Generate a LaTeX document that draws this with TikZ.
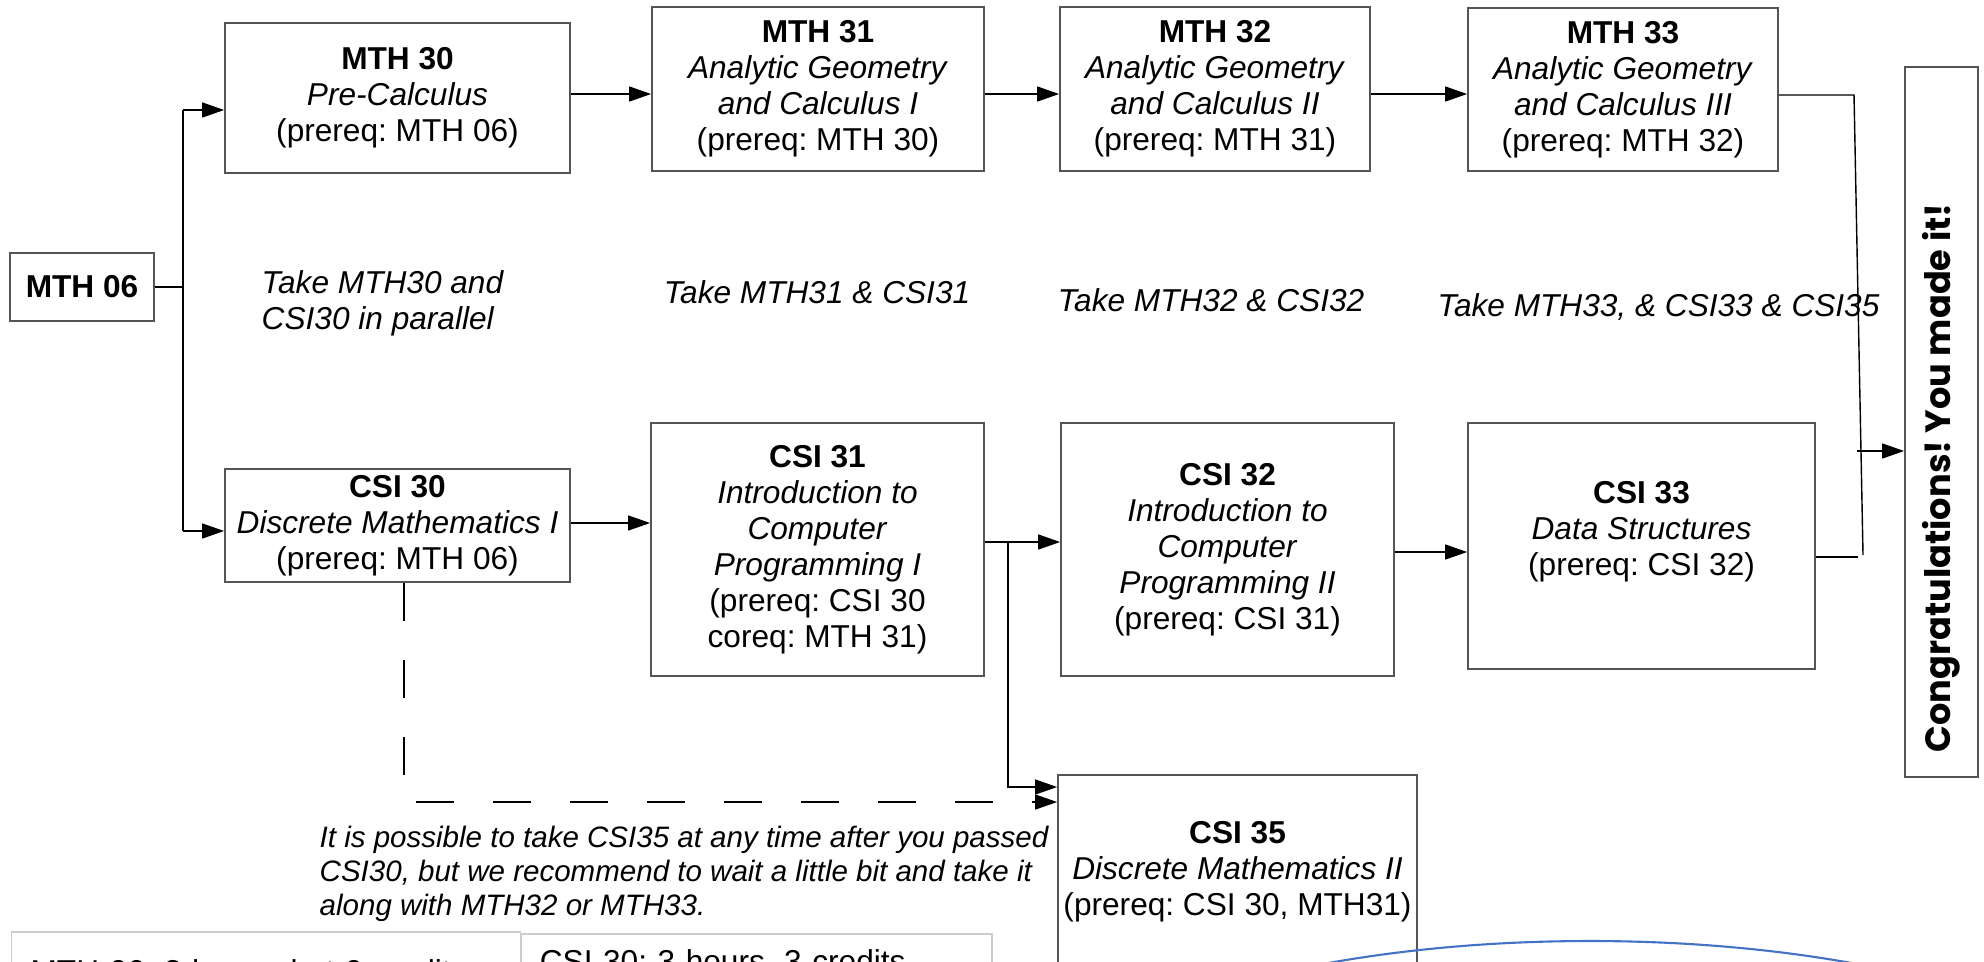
\documentclass[tikz,border=0pt]{standalone}
\usepackage{fontspec}
\setmainfont{Liberation Sans}
\newfontfamily\congfont{Poppins}
\usetikzlibrary{arrows.meta}
\definecolor{boxgray}{RGB}{85,85,85}
\definecolor{tabgray}{RGB}{205,205,205}
\definecolor{arcblue}{RGB}{68,114,196}
\frenchspacing

\begin{document}
\begin{tikzpicture}
\tikzstyle{course}=[draw=boxgray,line width=0.5pt,inner sep=0pt,align=center,font=\fontsize{9}{10.25}\selectfont];
\tikzstyle{note}=[inner sep=0pt,font=\fontsize{9}{10.25}\selectfont\itshape];
\tikzstyle{tab}=[draw=tabgray,line width=0.5pt,anchor=north west,align=left,inner xsep=0.19cm,inner ysep=0pt,font=\fontsize{9}{10.25}\selectfont];
\tikzstyle{arr}=[-{Triangle[length=2.2mm,width=1.5mm]}];
\useasboundingbox (0,0) rectangle (19.84,-9.61);
\clip (0,0) rectangle (19.84,-9.61);
% math courses
\node[course,minimum width=1.44cm,minimum height=0.68cm](mth06) at (0.82,-2.87) {\textbf{MTH 06}};
\node[course,minimum width=3.45cm,minimum height=1.50cm](mth30) at (3.975,-0.98) {\textbf{MTH 30}\\\textit{Pre-Calculus}\\(prereq: MTH 06)};
\node[course,minimum width=3.32cm,minimum height=1.64cm](mth31) at (8.18,-0.89) {\textbf{MTH 31}\\\textit{Analytic Geometry}\\\textit{and Calculus I}\\(prereq: MTH 30)};
\node[course,minimum width=3.10cm,minimum height=1.64cm](mth32) at (12.15,-0.89) {\textbf{MTH 32}\\\textit{Analytic Geometry}\\\textit{and Calculus II}\\(prereq: MTH 31)};
\node[course,minimum width=3.10cm,minimum height=1.63cm](mth33) at (16.23,-0.895) {\textbf{MTH 33}\\\textit{Analytic Geometry}\\\textit{and Calculus III}\\(prereq: MTH 32)};
% cs courses
\node[course,minimum width=3.45cm,minimum height=1.13cm](csi30) at (3.975,-5.255) {\textbf{CSI 30}\\\textit{Discrete Mathematics I}\\(prereq: MTH 06)};
\node[course,minimum width=3.33cm,minimum height=2.53cm](csi31) at (8.175,-5.495) {\textbf{CSI 31}\\\textit{Introduction to}\\\textit{Computer}\\\textit{Programming I}\\(prereq: CSI 30\\coreq: MTH 31)};
\node[course,minimum width=3.33cm,minimum height=2.53cm](csi32) at (12.275,-5.495) {\textbf{CSI 32}\\\textit{Introduction to}\\\textit{Computer}\\\textit{Programming II}\\(prereq: CSI 31)};
\node[course,minimum width=3.47cm,minimum height=2.46cm](csi33) at (16.415,-5.46) {\textbf{CSI 33}\\\textit{Data Structures}\\(prereq: CSI 32)\\~};
\node[course,minimum width=3.59cm,minimum height=1.94cm](csi35) at (12.375,-8.72) {\textbf{CSI 35}\\\textit{Discrete Mathematics II}\\(prereq: CSI 30, MTH31)};
\node[course,rotate=90,minimum width=7.10cm,minimum height=0.73cm,font=\congfont\bfseries\fontsize{10}{12}\selectfont](done) at (19.415,-4.22) {Congratulations! You made it!\hspace*{1.12cm}};
% notes
\node[note,anchor=west,align=left](par1) at (2.61,-3.035) {Take MTH30 and\\CSI30 in parallel};
\node[note](par2) at (8.17,-2.92) {Take MTH31 \& CSI31};
\node[note](par3) at (12.11,-3.00) {Take MTH32 \& CSI32};
\node[note](par4) at (16.585,-3.07) {Take MTH33, \& CSI33 \& CSI35};
\node[note,anchor=west,align=left,font=\fontsize{8.4}{9.7}\selectfont\itshape](hint) at (3.19,-8.74) {It is possible to take CSI35 at any time after you passed\\CSI30, but we recommend to wait a little bit and take it\\along with MTH32 or MTH33.};
\node[tab,text width=4.71cm,minimum height=0.82cm](tab1) at (0.107,-9.31) {MTH 06: 3 hours, but 0 credits};
\node[tab,text width=4.33cm,minimum height=0.58cm](tab2) at (5.20,-9.33) {CSI 30: 3 hours, 3 credits};
% connectors
\coordinate (jt) at (1.83,-1.10);
\coordinate (jb) at (1.83,-5.31);
\draw (mth06.east) -- (mth06.east -| jt);
\draw (jt) -- (jb);
\draw[arr] (jt) -- (jt -| mth30.west);
\draw[arr] (jb) -- (jb -| csi30.west);
\coordinate (r1) at (0,-0.94);
\draw[arr] (mth30.east |- r1) -- (mth31.west |- r1);
\draw[arr] (mth31.east |- r1) -- (mth32.west |- r1);
\draw[arr] (mth32.east |- r1) -- (mth33.west |- r1);
\coordinate (m1) at (18.54,-0.95);
\coordinate (m2) at (18.63,-5.55);
\draw (mth33.east |- m1) -- (m1) -- (m2);
\coordinate (c1) at (18.58,-5.57);
\draw (csi33.east |- c1) -- (c1);
\coordinate (g1) at (18.57,-4.51);
\draw[arr] (g1) -- (g1 -| done.north);
\coordinate (r2) at (0,-5.23);
\draw[arr] (csi30.east |- r2) -- (csi31.west |- r2);
\coordinate (b1) at (10.08,-5.42);
\coordinate (b2) at (10.08,-7.87);
\draw[arr] (csi31.east |- b1) -- (csi32.west |- b1);
\draw[arr] (b1) -- (b2) -- (b2 -| csi35.west);
\coordinate (r3) at (0,-5.52);
\draw[arr] (csi32.east |- r3) -- (csi33.west |- r3);
\coordinate (d1) at (4.04,-8.02);
\draw[arr,dash pattern=on 0.38cm off 0.39cm] (csi30.south -| d1) -- (d1) -- (d1 -| csi35.west);
% arc at the bottom
\draw[arcblue,line width=0.6pt] (15.90,-11.41) ellipse (5.73cm and 2cm);
\end{tikzpicture}
\end{document}
